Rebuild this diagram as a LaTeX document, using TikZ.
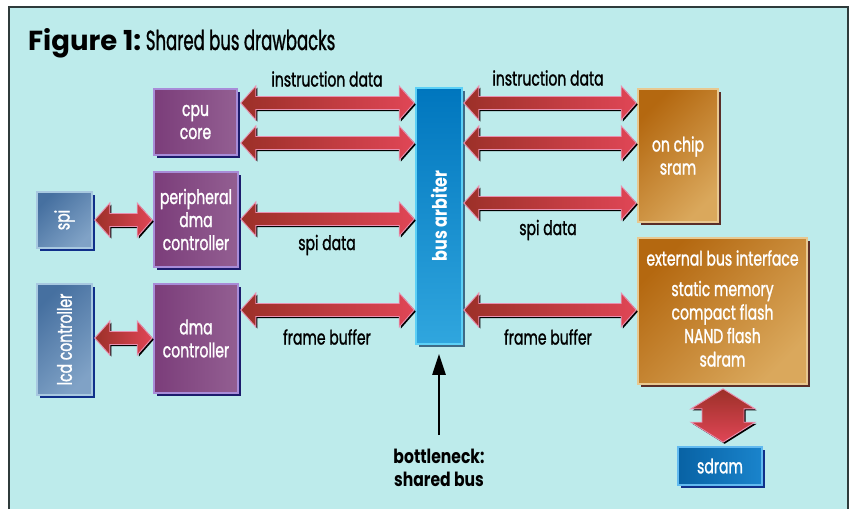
\documentclass[tikz,border=0pt]{standalone}
\usepackage{fontspec}
\setmainfont{Poppins}[FakeStretch=0.7, FakeBold=1.2, BoldFeatures={FakeStretch=0.8, FakeBold=0}]
\newfontfamily\figfont{Poppins}
\newfontfamily\titlefont{Poppins}[FakeStretch=0.6, FakeBold=1]
\usetikzlibrary{calc,shadows,arrows.meta}

\definecolor{bgc}{HTML}{BDEBEB}
\definecolor{framec}{HTML}{2F3B3B}
\definecolor{purA}{HTML}{7B3D7A}
\definecolor{purB}{HTML}{935F92}
\definecolor{purEdge}{HTML}{A88CD8}
\definecolor{purShadow}{HTML}{1C1C6C}
\definecolor{slA}{HTML}{4670A0}
\definecolor{slB}{HTML}{80A2C6}
\definecolor{slEdge}{HTML}{A8C8E0}
\definecolor{slShadow}{HTML}{10308A}
\definecolor{arbA}{HTML}{0076BE}
\definecolor{arbB}{HTML}{30A6DE}
\definecolor{arbEdge}{HTML}{5CD0F6}
\definecolor{arbShadow}{HTML}{3E6A86}
\definecolor{orA}{HTML}{B46810}
\definecolor{orB}{HTML}{DAA85C}
\definecolor{orEdge}{HTML}{E8C890}
\definecolor{orShadow}{HTML}{5A2E28}
\definecolor{sdA}{HTML}{0862A4}
\definecolor{sdB}{HTML}{1A84CC}
\definecolor{sdEdge}{HTML}{62BAF0}
\definecolor{arrA}{HTML}{9C3028}
\definecolor{arrB}{HTML}{E04656}
\definecolor{arrEdge}{HTML}{E890B0}

% horizontal double block arrow between two tips on one line
\newcommand\fatH[2]{let \p1=#1, \p2=#2 in
  (\x1,\y1) -- (\x1+15pt,\y1+17pt) -- (\x1+15pt,\y1+6.5pt) -- (\x2-15pt,\y1+6.5pt)
  -- (\x2-15pt,\y1+17pt) -- (\x2,\y1) -- (\x2-15pt,\y1-17pt) -- (\x2-15pt,\y1-6.5pt)
  -- (\x1+15pt,\y1-6.5pt) -- (\x1+15pt,\y1-17pt) -- cycle}
% vertical double block arrow, top tip then bottom tip
\newcommand\fatV[2]{let \p1=#1, \p2=#2 in
  (\x1,\y1) -- (\x1+32pt,\y1-20pt) -- (\x1+21pt,\y1-20pt) -- (\x1+21pt,\y2+20pt)
  -- (\x1+32pt,\y2+20pt) -- (\x1,\y2) -- (\x1-32pt,\y2+20pt) -- (\x1-21pt,\y2+20pt)
  -- (\x1-21pt,\y1-20pt) -- (\x1-32pt,\y1-20pt) -- cycle}

\begin{document}
\begin{tikzpicture}[x=1pt,y=-1pt,
  box/.style={line width=1.6pt, text=white, align=center, inner sep=0pt,
    font=\fontsize{20}{23}\selectfont},
  purplebox/.style={box, draw=purEdge, left color=purA, right color=purB,
    drop shadow={fill=purShadow, opacity=1, shadow xshift=3pt, shadow yshift=-3pt}},
  slatebox/.style={box, draw=slEdge, top color=slA, bottom color=slB, shading angle=45,
    drop shadow={fill=slShadow, opacity=1, shadow xshift=3pt, shadow yshift=-3pt}},
  arbbox/.style={box, draw=arbEdge, top color=arbA, bottom color=arbB,
    drop shadow={fill=arbShadow, opacity=1, shadow xshift=3pt, shadow yshift=-3pt}},
  orangebox/.style={box, draw=orEdge, top color=orA, bottom color=orB, shading angle=45,
    drop shadow={fill=orShadow, opacity=1, shadow xshift=3pt, shadow yshift=-3pt}},
  sdbox/.style={box, draw=sdEdge, left color=sdA, right color=sdB,
    drop shadow={fill=slShadow, opacity=1, shadow xshift=3pt, shadow yshift=-3pt}},
  blockarrow/.style={draw=arrEdge, line width=0.9pt, line join=miter,
    left color=arrA, right color=arrB,
    drop shadow={fill=black, opacity=1, shadow xshift=1.6pt, shadow yshift=-1.6pt}},
  blockarrowv/.style={draw=arrEdge, line width=0.9pt, line join=miter,
    top color=arrA, bottom color=arrB,
    drop shadow={fill=black, opacity=1, shadow xshift=1.6pt, shadow yshift=-1.6pt}},
  lbl/.style={font=\fontsize{20}{23}\selectfont, text=black, inner sep=0pt},
]
\useasboundingbox (0,0) rectangle (851,509);
\fill[white] (0,0) rectangle (851,509);
\fill[bgc] (9,7) rectangle (848,509);
\draw[framec, line width=2pt] (9,509) -- (9,7) -- (848,7) -- (848,509);

% title
\node[anchor=base west, inner sep=0pt] (title) at (28,50)
  {\fontsize{27.5}{30}\selectfont\figfont\bfseries Figure 1:\,\titlefont\mdseries\fontsize{27.5}{30}\selectfont Shared bus drawbacks};

% blocks
\node[purplebox, minimum width=83, minimum height=66] (cpu) at (195.5,122) {cpu\\core};
\node[purplebox, minimum width=84, minimum height=95] (pdma) at (196,219.5) {peripheral\\dma\\controller};
\node[purplebox, minimum width=84, minimum height=109] (dma) at (196,338.5) {dma\\controller};
\node[slatebox, minimum width=55, minimum height=56] (spi) at (64.5,220) {\rotatebox{90}{spi}};
\node[slatebox, minimum width=55, minimum height=111] (lcd) at (64.5,339.5) {\rotatebox{90}{lcd controller}};
\node[arbbox, minimum width=46, minimum height=256] (arb) at (439,216) {\rotatebox{90}{\bfseries bus arbiter}};
\node[orangebox, minimum width=80, minimum height=133] (sram) at (678,155.5) {on chip\\sram};
\node[orangebox, minimum width=169, minimum height=146] (ebi) at (722.5,311) {};
\node[box] (ebititle) at (722.5,258) {external bus interface};
\node[box, anchor=north, font=\fontsize{20}{23.5}\selectfont] (ebilist) at (722.5,280) {static memory\\compact flash\\NAND flash\\sdram};
\node[sdbox, minimum width=84, minimum height=38] (sdram) at (720,466) {sdram};

% arrow end points
\coordinate (a1l) at ($(cpu.east |- 0,103)+(3,0)$);
\coordinate (a1r) at ($(arb.west |- 0,103)+(-1,0)$);
\coordinate (a2l) at ($(cpu.east |- 0,143)+(3,0)$);
\coordinate (a2r) at ($(arb.west |- 0,143)+(-1,0)$);
\coordinate (a3l) at ($(pdma.east |- 0,219)+(2,0)$);
\coordinate (a3r) at ($(arb.west |- 0,219)+(-1,0)$);
\coordinate (a4l) at ($(dma.east |- 0,310)+(2,0)$);
\coordinate (a4r) at ($(arb.west |- 0,310)+(-1,0)$);
\coordinate (b1l) at ($(arb.east |- 0,103)+(1,0)$);
\coordinate (b1r) at ($(sram.west |- 0,103)+(-1,0)$);
\coordinate (b2l) at ($(arb.east |- 0,143)+(1,0)$);
\coordinate (b2r) at ($(sram.west |- 0,143)+(-1,0)$);
\coordinate (b3l) at ($(arb.east |- 0,203)+(1,0)$);
\coordinate (b3r) at ($(sram.west |- 0,203)+(-1,0)$);
\coordinate (b4l) at ($(arb.east |- 0,310)+(1,0)$);
\coordinate (b4r) at ($(ebi.west |- 0,310)+(-1,0)$);
\coordinate (s1l) at ($(spi.east |- 0,220)+(2,0)$);
\coordinate (s1r) at ($(pdma.west |- 0,220)+(-1,0)$);
\coordinate (s2l) at ($(lcd.east |- 0,338)+(2,0)$);
\coordinate (s2r) at ($(dma.west |- 0,338)+(-1,0)$);
\coordinate (vt) at ($(ebi.south)+(0.5,4)$);
\coordinate (vb) at ($(sdram.north)+(3,-4)$);

% block arrows
\foreach \l/\r in {a1l/a1r, a2l/a2r, a3l/a3r, a4l/a4r, b1l/b1r, b2l/b2r, b3l/b3r, b4l/b4r, s1l/s1r, s2l/s2r}
  \path[blockarrow] \fatH{(\l)}{(\r)};
\path[blockarrowv] \fatV{(vt)}{(vb)};

% arrow labels
\node[lbl] (li) at (327,79) {instruction data};
\node[lbl] (ri) at (548,78) {instruction data};
\node[lbl] (ls) at (327,245) {spi data};
\node[lbl] (rs) at (548,230) {spi data};
\node[lbl] (lf) at (327,337) {frame buffer};
\node[lbl] (rf) at (548,337) {frame buffer};

% bottleneck pointer
\node[lbl, align=center, font=\fontsize{19.5}{23}\selectfont\bfseries] (bneck) at (439,468) {bottleneck:\\shared bus};
\draw[line width=2.4pt, -{Triangle[length=21pt,width=13pt]}] ([yshift=14pt]bneck.north) -- ([yshift=-9pt]arb.south);
\end{tikzpicture}
\end{document}
